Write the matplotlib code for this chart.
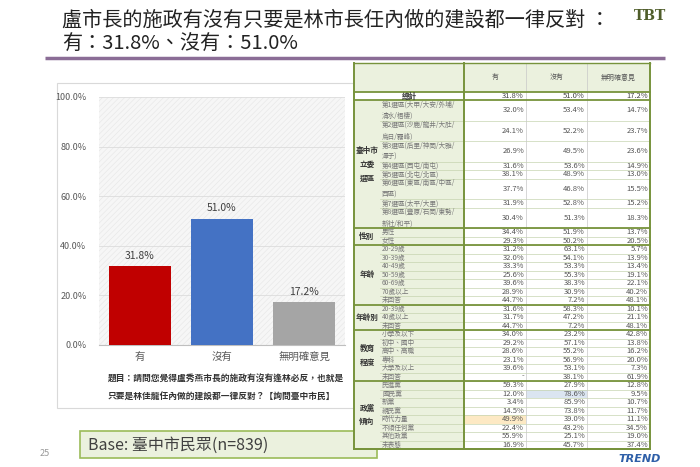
#######################################
# 1. 필요모듈
#######################################
import matplotlib
matplotlib.use("Agg")
import matplotlib.pyplot as plt
from matplotlib.patches import Rectangle

#######################################
# 2. 데이터
#######################################
TITLE_1 = "盧市長的施政有沒有只要是林市長任內做的建設都一律反對 ："
TITLE_2 = "有：31.8%、沒有：51.0%"

categories = ["有", "沒有", "無明確意見"]
values = [31.8, 51.0, 17.2]
bar_colors = ["#c00000", "#4472c4", "#a5a5a5"]
y_ticks = [0, 20, 40, 60, 80, 100]

QUESTION = [
    "題目：請問您覺得盧秀燕市長的施政有沒有逢林必反，也就是",
    "只要是林佳龍任內做的建設都一律反對？【詢問臺中市民】",
]
BASE_TEXT = "Base: 臺中市民眾(n=839)"
PAGE_NO = "25"

col_headers = ["有", "沒有", "無明確意見"]
total_label = "總計"
total_vals = [31.8, 51.0, 17.2]

district_labels = [
    "第1選區(大甲/大安/外埔/\n清水/梧棲)",
    "第2選區(沙鹿/龍井/大肚/\n烏日/霧峰)",
    "第3選區(后里/神岡/大雅/\n潭子)",
    "第4選區(西屯/南屯)",
    "第5選區(北屯/北區)",
    "第6選區(東區/南區/中區/\n西區)",
    "第7選區(太平/大里)",
    "第8選區(豐原/石岡/東勢/\n新社/和平)",
]
district_vals = [
    [32.0, 53.4, 14.7], [24.1, 52.2, 23.7], [26.9, 49.5, 23.6], [31.6, 53.6, 14.9],
    [38.1, 48.9, 13.0], [37.7, 46.8, 15.5], [31.9, 52.8, 15.2], [30.4, 51.3, 18.3],
]
gender_labels = ["男性", "女性"]
gender_vals = [[34.4, 51.9, 13.7], [29.3, 50.2, 20.5]]
age_labels = ["20-29歲", "30-39歲", "40-49歲", "50-59歲", "60-69歲", "70歲以上", "未回答"]
age_vals = [
    [31.2, 63.1, 5.7], [32.0, 54.1, 13.9], [33.3, 53.3, 13.4], [25.6, 55.3, 19.1],
    [39.6, 38.3, 22.1], [28.9, 30.9, 40.2], [44.7, 7.2, 48.1],
]
age2_labels = ["20-39歲", "40歲以上", "未回答"]
age2_vals = [[31.6, 58.3, 10.1], [31.7, 47.2, 21.1], [44.7, 7.2, 48.1]]
edu_labels = ["小學及以下", "初中、國中", "高中、高職", "專科", "大學及以上", "未回答"]
edu_vals = [
    [34.0, 23.2, 42.8], [29.2, 57.1, 13.8], [28.6, 55.2, 16.2],
    [23.1, 56.9, 20.0], [39.6, 53.1, 7.3], [None, 38.1, 61.9],
]
party_labels = ["民進黨", "國民黨", "新黨", "親民黨", "時代力量", "不傾任何黨", "其他政黨", "未表態"]
party_vals = [
    [59.3, 27.9, 12.8], [12.0, 78.6, 9.5], [3.4, 85.9, 10.7], [14.5, 73.8, 11.7],
    [49.9, 39.0, 11.1], [22.4, 43.2, 34.5], [55.9, 25.1, 19.0], [16.9, 45.7, 37.4],
]

#######################################
# 3. 환경설정
#######################################
plt.rcParams["font.family"] = ["Noto Sans CJK TC", "DejaVu Sans"]
plt.rcParams["hatch.linewidth"] = 0.4

W, H = 700, 467
GREEN = "#77933c"
PALE = "#ebf1de"
X_EDGES = [354, 380, 464, 526, 587, 650]
ROW_H = 8.5
DOUBLE_H = 20.5
HIGHLIGHT = {("國民黨", 1): "#dbe5f1", ("時代力量", 0): "#fde9c4"}


#######################################
# 4. 기본함수
#######################################
def fmt(v):
    return "-" if v is None else f"{v:.1f}%"


def draw_table(bg):
    groups = [
        ("臺中市\n立委\n選區", district_labels, district_vals),
        ("性別", gender_labels, gender_vals),
        ("年齡", age_labels, age_vals),
        ("年齡別", age2_labels, age2_vals),
        ("教育\n程度", edu_labels, edu_vals),
        ("政黨\n傾向", party_labels, party_vals),
    ]
    top, head_bot, tot_bot = 63, 92, 100
    left, right = X_EDGES[0], X_EDGES[-1]

    # header
    bg.add_patch(Rectangle((left, top), right - left, head_bot - top, fc=PALE, ec="none", zorder=5))
    for i, h in enumerate(col_headers):
        xc = (X_EDGES[i + 2] + X_EDGES[i + 3]) / 2
        bg.text(xc, (top + head_bot) / 2, h, ha="center", va="center", fontsize=5, color="#555555", zorder=8)

    # total row
    bg.add_patch(Rectangle((left, head_bot), right - left, tot_bot - head_bot, fc="white", ec="none", zorder=5))
    bg.text((X_EDGES[0] + X_EDGES[2]) / 2, (head_bot + tot_bot) / 2, total_label, ha="center", va="center",
            fontsize=5.5, fontweight="bold", color="#333333", zorder=8)
    for i, v in enumerate(total_vals):
        bg.text(X_EDGES[i + 3] - 2, (head_bot + tot_bot) / 2, fmt(v), ha="right", va="center",
                fontsize=5.5, color="#444444", zorder=8)

    y = tot_bot
    bounds = [head_bot, tot_bot]
    for glabel, labels, vals in groups:
        g_top = y
        for lab, row in zip(labels, vals):
            h = DOUBLE_H if "\n" in lab else ROW_H
            yc = y + h / 2
            bg.add_patch(Rectangle((left, y), X_EDGES[2] - left, h, fc=PALE, ec="none", zorder=5))
            for i, v in enumerate(row):
                fc = HIGHLIGHT.get((lab, i), "white")
                bg.add_patch(Rectangle((X_EDGES[i + 2], y), X_EDGES[i + 3] - X_EDGES[i + 2], h,
                                       fc=fc, ec="none", zorder=5))
                bg.text(X_EDGES[i + 3] - 2, yc, fmt(v), ha="right", va="center",
                        fontsize=5.5, color="#555555", zorder=8)
            bg.text(X_EDGES[1] + 2, yc, lab, ha="left", va="center", fontsize=4.8,
                    color="#777777", linespacing=1.6, zorder=8)
            y += h
            bg.plot([X_EDGES[1], right], [y, y], color="#c6d4b0", lw=0.5, zorder=6)
        bg.text((X_EDGES[0] + X_EDGES[1]) / 2, (g_top + y) / 2, glabel, ha="center", va="center",
                fontsize=5.5, fontweight="bold", color="#333333", linespacing=1.7, zorder=8)
        bounds.append(y)
    bottom = y

    # lines
    for b in bounds:
        bg.plot([left, right], [b, b], color=GREEN, lw=1.3, zorder=7)
    for x in X_EDGES[3:5]:
        bg.plot([x, x], [top, bottom], color="#c8c8c8", lw=0.5, zorder=6)
    for x in [left, X_EDGES[2], right]:
        bg.plot([x, x], [top, bottom], color=GREEN, lw=1.4, zorder=7)
    bg.plot([left, right], [top, top], color=GREEN, lw=1.0, zorder=7)
    bg.plot([left, right], [bottom, bottom], color=GREEN, lw=1.4, zorder=7)


#######################################
# 5. 메인함수
#######################################
def main():
    fig = plt.figure(figsize=(7, 4.67), dpi=100)
    bg = fig.add_axes([0, 0, 1, 1])
    bg.set_xlim(0, W)
    bg.set_ylim(H, 0)
    bg.set_axis_off()

    # title
    bg.text(62, 20, TITLE_1, fontsize=14.5, color="#222222", va="center", ha="left")
    bg.text(62, 44, TITLE_2, fontsize=14.5, color="#222222", va="center", ha="left")
    bg.plot([45, 665], [58, 58], color="#8b6d96", lw=2.5, solid_capstyle="butt")
    bg.text(650, 16, "TBT", fontsize=10, fontweight="bold", family="DejaVu Serif",
            color="#4f5d2a", ha="center", va="center")

    # chart panel
    bg.add_patch(Rectangle((57, 83), 297, 325, fc="white", ec="#d9d9d9", lw=0.8, zorder=1))
    for i, line in enumerate(QUESTION):
        bg.text(108, 378 + i * 18, line, fontsize=6.3, fontweight="bold", color="#333333",
                ha="left", va="center", zorder=2)

    # base box / footer
    bg.add_patch(Rectangle((80, 431), 297, 27, fc=PALE, ec="#9bbb59", lw=1.2, zorder=3))
    bg.text(88, 445, BASE_TEXT, fontsize=11.5, color="#404040", ha="left", va="center", zorder=4)
    bg.text(45, 453, PAGE_NO, fontsize=6.5, color="#999999", ha="center", va="center")
    bg.text(640, 459, "TREND", fontsize=8, fontweight="bold", fontstyle="italic",
            color="#2e5fa8", ha="center", va="center", family="DejaVu Sans")

    draw_table(bg)

    # bar chart
    ax = fig.add_axes([99 / W, 1 - 345 / H, 246 / W, 248 / H])
    ax.set_facecolor("#f6f6f6")
    ax.add_patch(Rectangle((0, 0), 1, 1, transform=ax.transAxes, fc="none", ec="#e6e6e6",
                           hatch="//////", lw=0, zorder=0))
    x_pos = range(len(categories))
    ax.bar(x_pos, values, width=0.75, color=bar_colors, zorder=3)
    for i, v in enumerate(values):
        ax.annotate(f"{v:.1f}%", (i, v), xytext=(0, 4), textcoords="offset points",
                    ha="center", va="bottom", fontsize=7.5, color="#404040")
    ax.set_xlim(-0.5, len(categories) - 0.5)
    ax.set_ylim(0, 100)
    ax.set_yticks(y_ticks)
    ax.set_yticklabels([f"{t:.1f}%" for t in y_ticks])
    ax.set_xticks(list(x_pos))
    ax.set_xticklabels(categories)
    ax.yaxis.grid(True, color="#dcdcdc", lw=0.6)
    ax.set_axisbelow(True)
    for side in ["left", "top", "right"]:
        ax.spines[side].set_visible(False)
    ax.spines["bottom"].set_color("#bfbfbf")
    ax.tick_params(axis="y", length=0, pad=9, labelsize=6.5, labelcolor="#595959")
    ax.tick_params(axis="x", length=0, pad=5, labelsize=7.5, labelcolor="#595959")

    fig.savefig("out.png", dpi=100, facecolor="white")


#######################################
# 6. 실행
#######################################
if __name__ == "__main__":
    main()
